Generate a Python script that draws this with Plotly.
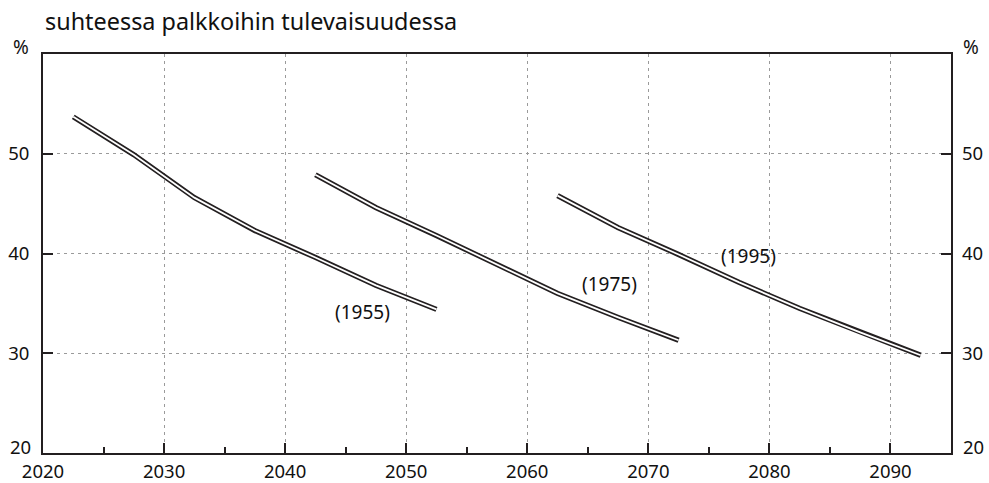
import plotly.graph_objects as go

title_text = "suhteessa palkkoihin tulevaisuudessa"

years_1955 = [2022.5, 2027.5, 2032.5, 2037.5, 2042.5, 2047.5, 2052.5]
vals_1955 = [53.7, 49.9, 45.6, 42.3, 39.6, 36.8, 34.4]

years_1975 = [2042.5, 2047.5, 2052.5, 2057.5, 2062.5, 2067.5, 2072.5]
vals_1975 = [47.9, 44.6, 41.8, 38.9, 36.0, 33.6, 31.3]

years_1995 = [2062.5, 2067.5, 2072.5, 2077.5, 2082.5, 2087.5, 2092.5]
vals_1995 = [45.8, 42.6, 39.9, 37.1, 34.5, 32.1, 29.8]

series_labels = ["(1955)", "(1975)", "(1995)"]
label_x = [2046.4, 2066.8, 2078.3]
label_y = [34.1, 36.9, 39.8]

x_ticks = [2020, 2030, 2040, 2050, 2060, 2070, 2080, 2090]
y_ticks = [20, 30, 40, 50]
y_ticktext = ["", "30", "40", "50"]
y_bottom_label = "20"
unit_label = "%"

FONT = "Noto Sans"
AX = "#231f20"
GRID = "#9a9a9a"
TXT = "#111"
FS = 18.5

fig = go.Figure()
for xs, ys in [(years_1955, vals_1955), (years_1975, vals_1975), (years_1995, vals_1995)]:
    fig.add_trace(go.Scatter(x=xs, y=ys, mode="lines",
                             line=dict(color=AX, width=5.2), hoverinfo="skip", showlegend=False))
    fig.add_trace(go.Scatter(x=xs, y=ys, mode="lines",
                             line=dict(color="white", width=1.8), hoverinfo="skip", showlegend=False))

fig.add_trace(go.Scatter(x=[2020], y=[20], yaxis="y2", mode="markers",
                         marker=dict(opacity=0), hoverinfo="skip", showlegend=False))

for t, x, y in zip(series_labels, label_x, label_y):
    fig.add_annotation(x=x, y=y, text=t, showarrow=False,
                       font=dict(family=FONT, size=19, color=TXT))

fig.add_annotation(xref="paper", yref="paper", x=-0.0135, y=1.0, yanchor="bottom",
                   xanchor="right", yshift=-8, text=unit_label, showarrow=False,
                   font=dict(family=FONT, size=19, color=TXT))
fig.add_annotation(xref="paper", yref="paper", x=1.0115, y=1.0, yanchor="bottom",
                   xanchor="left", yshift=-8, text=unit_label, showarrow=False,
                   font=dict(family=FONT, size=19, color=TXT))
fig.add_annotation(xref="paper", yref="y", x=-0.011, y=y_ticks[0], yshift=7,
                   xanchor="right", text=y_bottom_label, showarrow=False,
                   font=dict(family=FONT, size=FS, color=TXT))
fig.add_annotation(xref="paper", yref="y", x=1.0115, y=y_ticks[0], yshift=7,
                   xanchor="left", text=y_bottom_label, showarrow=False,
                   font=dict(family=FONT, size=FS, color=TXT))

fig.update_layout(
    width=989, height=483,
    margin=dict(l=43, r=38, t=54, b=30, autoexpand=False),
    paper_bgcolor="white", plot_bgcolor="white",
    title=dict(text=title_text, x=45 / 989, xanchor="left", y=1 - 22 / 483, yanchor="middle",
               xref="container", yref="container",
               font=dict(family=FONT, size=23.4, color=TXT)),
    xaxis=dict(range=[2020, 2095], tickvals=x_ticks, ticktext=[str(v) for v in x_ticks],
               showgrid=True, gridcolor=GRID, griddash="3px,4px", gridwidth=1,
               showline=True, linecolor=AX, linewidth=2, mirror=True,
               ticks="inside", ticklen=10, tickwidth=2, tickcolor=AX,
               minor=dict(dtick=5, tick0=2020, ticks="inside", ticklen=6, tickwidth=2,
                          tickcolor=AX, showgrid=False),
               automargin=False, ticklabelstandoff=1,
               tickfont=dict(family=FONT, size=FS, color=TXT), zeroline=False),
    yaxis=dict(range=[20, 60], tickvals=y_ticks, ticktext=y_ticktext,
               showgrid=True, gridcolor=GRID, griddash="3px,4px", gridwidth=1,
               showline=True, linecolor=AX, linewidth=2, mirror=True,
               ticks="inside", ticklen=10, tickwidth=2, tickcolor=AX,
               automargin=False, ticklabelstandoff=8,
               tickfont=dict(family=FONT, size=FS, color=TXT), zeroline=False),
    yaxis2=dict(range=[20, 60], tickvals=y_ticks, ticktext=y_ticktext,
                overlaying="y", side="right",
                showgrid=False, showline=False, automargin=False, ticklabelstandoff=10,
                ticks="inside", ticklen=10, tickwidth=2, tickcolor=AX,
                tickfont=dict(family=FONT, size=FS, color=TXT), zeroline=False),
)

fig.write_html("out.html", config={"displayModeBar": False},
               post_script="document.body.style.margin='0';document.body.style.overflow='hidden';")
